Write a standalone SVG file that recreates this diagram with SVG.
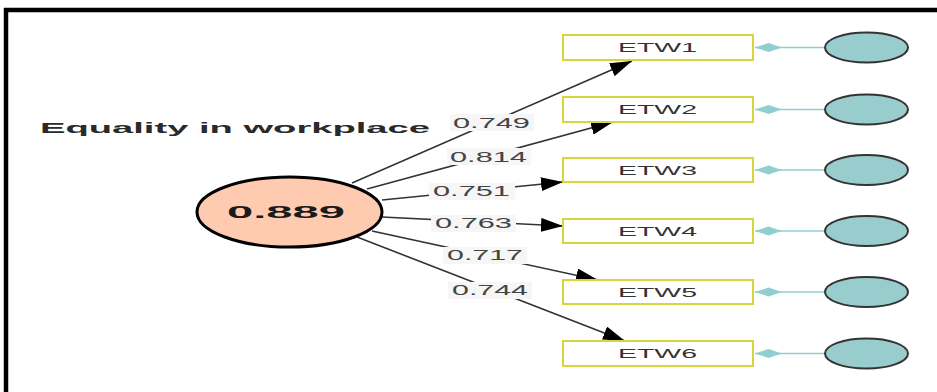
<svg xmlns="http://www.w3.org/2000/svg" width="937" height="392" viewBox="0 0 937 392">
  <style>
    .frame { fill: none; stroke: #000; stroke-width: 4.5; }
    .title { font-family: "Liberation Sans", Arial, sans-serif; font-weight: bold; font-size: 15.5px; fill: #2a2a2a; }
    .latent { fill: #ffcbb0; stroke: #000; stroke-width: 3; }
    .latent-val { font-family: "Liberation Sans", Arial, sans-serif; font-weight: bold; font-size: 17px; fill: #1a1a1a; text-anchor: middle; }
    .ind { fill: #fff; stroke: #d6d63c; stroke-width: 2; }
    .ind-label { font-family: "Liberation Sans", Arial, sans-serif; font-size: 12.5px; fill: #333; text-anchor: middle; }
    .err { fill: #99cccc; stroke: #333; stroke-width: 2; }
    .err-link { stroke: #8fcfcf; stroke-width: 1.5; fill: none; marker-end: url(#diamond); }
    .path { stroke: #333; stroke-width: 1.6; fill: none; marker-end: url(#arrow); }
    .w-bg { fill: #f6f6f6; }
    .w-text { font-family: "Liberation Sans", Arial, sans-serif; font-size: 14px; fill: #444; text-anchor: middle; }
  </style>
  <defs>
    <marker id="arrow" markerUnits="userSpaceOnUse" markerWidth="22" markerHeight="14" viewBox="0 0 22 14" refX="22" refY="7" orient="auto">
      <path d="M0,0 L22,7 L0,14 Z" fill="#000"/>
    </marker>
    <marker id="diamond" markerUnits="userSpaceOnUse" markerWidth="27" markerHeight="10" viewBox="0 0 27 10" refX="27" refY="5" orient="auto">
      <path d="M0,5 L13.5,0.5 L27,5 L13.5,9.5 Z" fill="#8fcfcf"/>
    </marker>
  </defs>

  <rect x="0" y="0" width="937" height="392" fill="#fff"/>
  <path class="frame" d="M6,392 V10 H937"/>

  <!-- structural paths from the latent variable to its indicators -->
  <g id="connectors">
    <line class="path" x1="352" y1="183" x2="632" y2="61"/>
    <line class="path" x1="367" y1="189" x2="613" y2="122"/>
    <line class="path" x1="382" y1="200" x2="563" y2="182"/>
    <line class="path" x1="382" y1="217" x2="563" y2="226"/>
    <line class="path" x1="372" y1="231" x2="598" y2="280"/>
    <line class="path" x1="357" y1="237" x2="625" y2="341"/>

    <!-- loading labels -->
    <rect class="w-bg" x="450" y="114" width="84" height="17"/>
    <text class="w-text" x="491.5" y="128" textLength="77" lengthAdjust="spacingAndGlyphs">0.749</text>
    <rect class="w-bg" x="447" y="148" width="84" height="17"/>
    <text class="w-text" x="488.5" y="162" textLength="77" lengthAdjust="spacingAndGlyphs">0.814</text>
    <rect class="w-bg" x="429" y="183" width="86" height="17"/>
    <text class="w-text" x="471.5" y="196" textLength="77" lengthAdjust="spacingAndGlyphs">0.751</text>
    <rect class="w-bg" x="431" y="215" width="85" height="17"/>
    <text class="w-text" x="473.5" y="228" textLength="77" lengthAdjust="spacingAndGlyphs">0.763</text>
    <rect class="w-bg" x="443" y="247" width="84" height="17"/>
    <text class="w-text" x="485" y="260" textLength="76" lengthAdjust="spacingAndGlyphs">0.717</text>
    <rect class="w-bg" x="448" y="282" width="84" height="17"/>
    <text class="w-text" x="490" y="295" textLength="76" lengthAdjust="spacingAndGlyphs">0.744</text>

    <!-- error terms -->
    <line class="err-link" x1="825" y1="47.5" x2="755" y2="47.5"/>
    <line class="err-link" x1="825" y1="109.5" x2="755" y2="109.5"/>
    <line class="err-link" x1="825" y1="170" x2="755" y2="170"/>
    <line class="err-link" x1="825" y1="231" x2="755" y2="231"/>
    <line class="err-link" x1="825" y1="292" x2="755" y2="292"/>
    <line class="err-link" x1="825" y1="353.5" x2="755" y2="353.5"/>
  </g>

  <g id="equality-in-workplace">
    <text class="title" x="40" y="133" textLength="390" lengthAdjust="spacingAndGlyphs">Equality in workplace</text>
    <ellipse class="latent" cx="289.5" cy="212" rx="92.5" ry="35"/>
    <text class="latent-val" x="286" y="218" textLength="118" lengthAdjust="spacingAndGlyphs">0.889</text>
  </g>

  <g id="ETW1">
    <rect class="ind" x="563" y="35" width="190" height="25"/>
    <text class="ind-label" x="657.5" y="52" textLength="79" lengthAdjust="spacingAndGlyphs">ETW1</text>
  </g>
  <g id="ETW2">
    <rect class="ind" x="563" y="97" width="190" height="25"/>
    <text class="ind-label" x="657.5" y="114" textLength="79" lengthAdjust="spacingAndGlyphs">ETW2</text>
  </g>
  <g id="ETW3">
    <rect class="ind" x="563" y="158" width="190" height="24"/>
    <text class="ind-label" x="657.5" y="174.5" textLength="79" lengthAdjust="spacingAndGlyphs">ETW3</text>
  </g>
  <g id="ETW4">
    <rect class="ind" x="563" y="219" width="190" height="24"/>
    <text class="ind-label" x="657.5" y="235.5" textLength="79" lengthAdjust="spacingAndGlyphs">ETW4</text>
  </g>
  <g id="ETW5">
    <rect class="ind" x="563" y="280" width="190" height="24"/>
    <text class="ind-label" x="657.5" y="296.5" textLength="79" lengthAdjust="spacingAndGlyphs">ETW5</text>
  </g>
  <g id="ETW6">
    <rect class="ind" x="563" y="341" width="190" height="25"/>
    <text class="ind-label" x="657.5" y="358" textLength="79" lengthAdjust="spacingAndGlyphs">ETW6</text>
  </g>

  <g id="e1"><ellipse class="err" cx="866.5" cy="47.5" rx="41.5" ry="15"/></g>
  <g id="e2"><ellipse class="err" cx="866.5" cy="109.5" rx="41.5" ry="15"/></g>
  <g id="e3"><ellipse class="err" cx="866.5" cy="170" rx="41.5" ry="15"/></g>
  <g id="e4"><ellipse class="err" cx="866.5" cy="231" rx="41.5" ry="15"/></g>
  <g id="e5"><ellipse class="err" cx="866.5" cy="292" rx="41.5" ry="15"/></g>
  <g id="e6"><ellipse class="err" cx="866.5" cy="353.5" rx="41.5" ry="15"/></g>
</svg>
